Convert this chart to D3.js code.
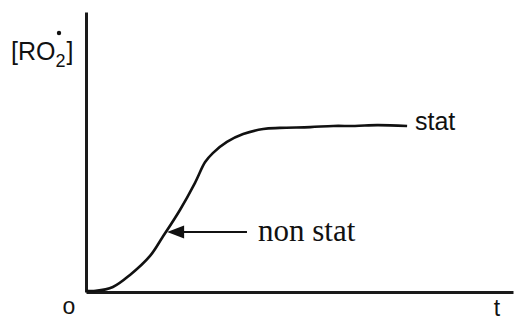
<!DOCTYPE html>
<html>
<head>
<meta charset="utf-8">
<script src="https://cdn.jsdelivr.net/npm/d3@7"></script>
<style>
  body { margin: 0; background: #fff; }
  .sans { font-family: Arial, "Liberation Sans", sans-serif; fill: #111; }
  .serif { font-family: "Times New Roman", "Liberation Serif", serif; fill: #111; }
</style>
</head>
<body>
<svg id="chart" width="514" height="320"></svg>
<script>
// curve (t in %, [RO2] in % of axis height)
const tValues = [0, 2.3, 6.3, 10.3, 15.0, 17.8, 22.0, 25.5, 27.9, 29.7, 33.0, 36.8, 41.5, 45.4, 52.5, 57.9, 63.0, 68.2, 75.2]
const roValues = [0.4, 0.4, 1.8, 6.1, 12.9, 19.3, 29.3, 38.9, 46.4, 49.6, 53.6, 56.4, 58.2, 58.6, 58.9, 59.3, 59.3, 59.6, 59.3]
// arrow pointing at the non stationary part: [from, to] in t, at one level
const arrowT = [37.7, 19.0]
const arrowY = 21.4
const labels = { y: "[RO", x0: "o", x1: "t", stat: "stat", nonStat: "non stat" }

const svg = d3.select("#chart")
const xScale = d3.scaleLinear().domain([0, 100]).range([86, 513])
const yScale = d3.scaleLinear().domain([0, 100]).range([292, 12])

// axes, just the lines
const x_axis = d3.axisBottom(xScale).ticks(0).tickSize(0).tickSizeOuter(0)
const y_axis = d3.axisLeft(yScale).ticks(0).tickSize(0).tickSizeOuter(0)
svg.append("g").attr("transform", `translate(0,${yScale(0)})`).call(x_axis)
svg.append("g").attr("transform", `translate(${xScale(0)},0)`).call(y_axis)
svg.selectAll(".domain").attr("stroke", "#1a1a1a").attr("stroke-width", 3)

// curve
const data = tValues.map((t, i) => ({ t: t, v: roValues[i] }))
const line = d3.line()
    .x(d => xScale(d.t))
    .y(d => yScale(d.v))
    .curve(d3.curveCatmullRom.alpha(0.5))
svg.append("path")
    .datum(data)
    .attr("d", line)
    .attr("fill", "none")
    .attr("stroke", "#111")
    .attr("stroke-width", 2.6)
    .attr("stroke-linejoin", "round")

// arrow
const ax0 = xScale(arrowT[0]), ax1 = xScale(arrowT[1]), ay = yScale(arrowY)
svg.append("line")
    .attr("x1", ax0).attr("x2", ax1 + 10)
    .attr("y1", ay).attr("y2", ay)
    .attr("stroke", "#111").attr("stroke-width", 2)
svg.append("path")
    .attr("d", `M${ax1},${ay}L${ax1 + 17},${ay - 6.5}L${ax1 + 17},${ay + 6.5}Z`)
    .attr("fill", "#111")

// labels
const ylab = svg.append("text").attr("class", "sans")
    .attr("x", 11).attr("y", 60).attr("font-size", 25)
ylab.append("tspan").text(labels.y)
ylab.append("tspan").text("2").attr("font-size", 18).attr("dy", 7)
ylab.append("tspan").text("]").attr("dy", -7).attr("dx", 1)
svg.append("circle").attr("cx", 59).attr("cy", 33).attr("r", 2.2).attr("fill", "#111")

svg.append("text").attr("class", "sans")
    .attr("x", 69).attr("y", 314).attr("font-size", 23)
    .attr("text-anchor", "middle").text(labels.x0)
svg.append("text").attr("class", "sans")
    .attr("x", 497).attr("y", 316).attr("font-size", 23)
    .attr("text-anchor", "middle").text(labels.x1)
svg.append("text").attr("class", "sans")
    .attr("x", 415).attr("y", 130).attr("font-size", 25)
    .text(labels.stat)
svg.append("text").attr("class", "serif")
    .attr("x", 258).attr("y", 241).attr("font-size", 31)
    .text(labels.nonStat)
</script>
</body>
</html>
